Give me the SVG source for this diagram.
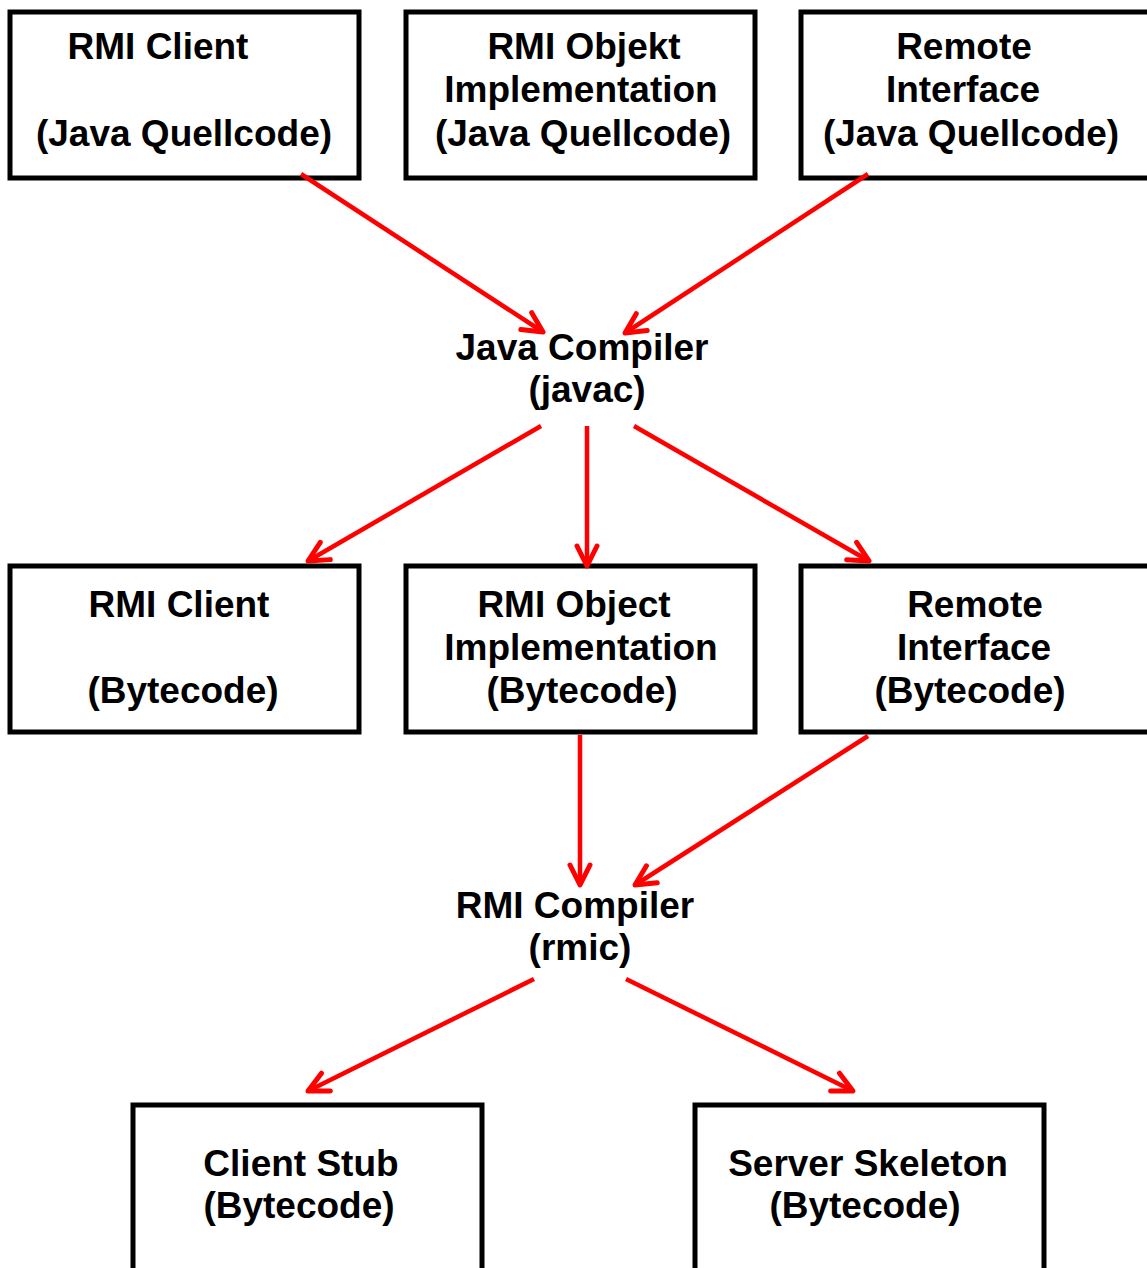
<svg xmlns="http://www.w3.org/2000/svg" width="1147" height="1268" viewBox="0 0 1147 1268">
<style>
.box{fill:#fff;stroke:#000;stroke-width:5}
.t{font-family:"Liberation Sans",Arial,sans-serif;font-weight:bold;font-size:37px;fill:#000;text-anchor:middle}
.c{stroke:#f00;stroke-width:4.5;fill:none;marker-end:url(#ah)}
</style>
<defs>
<marker id="ah" markerUnits="userSpaceOnUse" viewBox="-26 -14 30 28" markerWidth="30" markerHeight="28" refX="0" refY="0" orient="auto">
<path d="M -20 -10 L 0 0 L -20 10" fill="none" stroke="#f00" stroke-width="5" stroke-linecap="round" stroke-linejoin="round"/>
</marker>
</defs>
<rect width="1147" height="1268" fill="#fff"/>
<g id="n1"><rect class="box" x="10" y="12" width="349" height="166"/>
<text class="t" x="158" y="59">RMI Client</text><text class="t" x="184" y="146">(Java Quellcode)</text></g>
<g id="n2"><rect class="box" x="406" y="12" width="349" height="166"/>
<text class="t" x="584" y="59">RMI Objekt</text><text class="t" x="581" y="102">Implementation</text><text class="t" x="583" y="146">(Java Quellcode)</text></g>
<g id="n3"><rect class="box" x="801" y="12" width="349" height="166"/>
<text class="t" x="964" y="59">Remote</text><text class="t" x="963" y="102">Interface</text><text class="t" x="971" y="146">(Java Quellcode)</text></g>
<g id="javac"><text class="t" x="582" y="360">Java Compiler</text><text class="t" x="587" y="402">(javac)</text></g>
<g id="n4"><rect class="box" x="10" y="566" width="349" height="166"/>
<text class="t" x="179" y="617">RMI Client</text><text class="t" x="183" y="703">(Bytecode)</text></g>
<g id="n5"><rect class="box" x="406" y="566" width="349" height="166"/>
<text class="t" x="574" y="617">RMI Object</text><text class="t" x="581" y="660">Implementation</text><text class="t" x="582" y="703">(Bytecode)</text></g>
<g id="n6"><rect class="box" x="801" y="566" width="349" height="166"/>
<text class="t" x="975" y="617">Remote</text><text class="t" x="974" y="660">Interface</text><text class="t" x="970" y="703">(Bytecode)</text></g>
<g id="rmic"><text class="t" x="575" y="918">RMI Compiler</text><text class="t" x="580" y="960">(rmic)</text></g>
<g id="n7"><rect class="box" x="133" y="1105" width="349" height="175"/>
<text class="t" x="301" y="1176">Client Stub</text><text class="t" x="299" y="1218">(Bytecode)</text></g>
<g id="n8"><rect class="box" x="695" y="1105" width="349" height="175"/>
<text class="t" x="868" y="1176">Server Skeleton</text><text class="t" x="865" y="1218">(Bytecode)</text></g>
<g id="connectors">
<line class="c" x1="301" y1="174" x2="543" y2="332"/>
<line class="c" x1="868" y1="174" x2="625" y2="333"/>
<line class="c" x1="541" y1="426" x2="308" y2="561"/>
<line class="c" x1="587" y1="426" x2="587" y2="566"/>
<line class="c" x1="634" y1="426" x2="869" y2="561"/>
<line class="c" x1="580" y1="735" x2="580" y2="885"/>
<line class="c" x1="868" y1="736" x2="635" y2="885"/>
<line class="c" x1="534" y1="979" x2="308" y2="1091"/>
<line class="c" x1="626" y1="979" x2="853" y2="1091"/>
</g>
</svg>
